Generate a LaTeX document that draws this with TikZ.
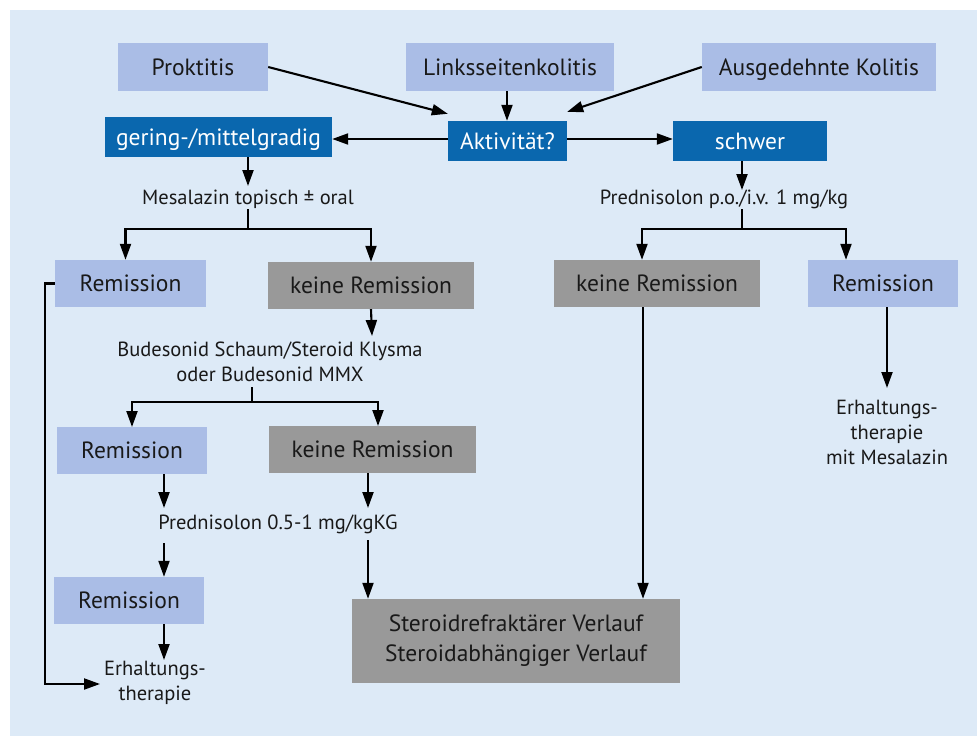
\documentclass[tikz,border=0pt]{standalone}
\usepackage{fontspec}
\setmainfont{PT Sans}
\usetikzlibrary{arrows.meta,calc}
\definecolor{bgpanel}{HTML}{DDEAF7}
\definecolor{lightbox}{HTML}{AABDE6}
\definecolor{darkbox}{HTML}{0A67AE}
\definecolor{graybox}{HTML}{999999}
\tikzset{
  box/.style={rectangle, inner sep=0pt, text height=16.5pt, text depth=0pt, font=\fontsize{23.5}{27}\selectfont},
  lbox/.style={box, fill=lightbox, text=black!90},
  dbox/.style={box, fill=darkbox, text=white},
  gbox/.style={box, fill=graybox, text=black!90},
  bigbox/.style={rectangle, inner sep=0pt, fill=graybox, text=black!90, align=center, font=\fontsize{23.5}{30}\selectfont},
  note/.style={inner sep=1pt, align=center, font=\fontsize{20.5}{25}\selectfont, text=black!90},
  arr/.style={line width=2.1pt, -{Triangle[length=16pt,width=11pt]}},
  ln/.style={line width=2.1pt},
}
\newcommand{\bx}[8]{% style, name, x1, y1, x2, y2, text
  \node[#1, minimum width={(#5)-(#3)}, minimum height={(#6)-(#4)}] (#2) at ({((#3)+(#5))/2},{((#4)+(#6))/2}) {#7};}
\begin{document}
\begin{tikzpicture}[x=1pt,y=-1pt]
\useasboundingbox (0,0) rectangle (977,736);
\fill[white] (0,0) rectangle (977,736);
\fill[bgpanel] (10,10) rectangle (977,736);

\bx{lbox}{prok}{118}{43}{268}{91}{Proktitis}{}
\bx{lbox}{links}{406}{43}{614}{91}{Linksseitenkolitis}{}
\bx{lbox}{ausg}{702}{43}{936}{91}{Ausgedehnte Kolitis}{}
\bx{dbox}{gering}{105}{117}{332}{157}{gering-/mittelgradig}{}
\bx{dbox}{akt}{448}{121}{567}{161}{Aktivität?}{}
\bx{dbox}{schwer}{673}{121}{827}{161}{schwer}{}
\bx{lbox}{rem1}{55}{260}{206}{307}{Remission}{}
\bx{gbox}{kr1}{268}{262}{474}{309}{keine Remission}{}
\bx{lbox}{rem2}{57}{427}{207}{474}{Remission}{}
\bx{gbox}{kr2}{269}{426}{476}{473}{keine Remission}{}
\bx{lbox}{rem3}{54}{577}{204}{624}{Remission}{}
\node[bigbox, minimum width=328pt, minimum height=84pt] (ster) at (516,641)
  {Steroidrefraktärer Verlauf\\Steroidabhängiger Verlauf};
\bx{gbox}{krR}{554}{260}{760}{307}{keine Remission}{}
\bx{lbox}{remR}{808}{260}{958}{307}{Remission}{}

\node[note] (mes) at (248,199) {Mesalazin topisch ± oral};
\node[note] (pred1) at (724,199) {Prednisolon p.o./i.v. 1 mg/kg};
\node[note] (bud) at (270,362) {Budesonid Schaum/Steroid Klysma\\oder Budesonid MMX};
\node[note] (pred2) at (278,524) {Prednisolon 0.5-1 mg/kgKG};
\node[note] (erh1) at (155,683) {Erhaltungs-\\therapie};
\node[note] (erh2) at (887,432) {Erhaltungs-\\therapie\\mit Mesalazin};

% top inputs
\draw[arr] (prok.east) -- ([yshift=7pt]akt.north west);
\draw[arr] (links.south -| 507,0) -- (akt.north -| 507,0);
\draw[arr] (ausg.west) -- ([yshift=9pt]akt.north east);
\draw[arr] (akt.west |- 0,139) -- (gering.east |- 0,139);
\draw[arr] (akt.east |- 0,139) -- (schwer.west |- 0,139);

% left branch
\coordinate (j1) at (248,229);
\draw[arr] (gering.south -| mes) -- (248,186) coordinate (mtop);
\draw[ln] (248,209) coordinate (mbot) -- (j1);
\draw[arr] (j1) -| ([xshift=-5pt]rem1.north);
\draw[arr] (j1) -| (kr1.north);
\draw[arr] (kr1.south) -- (372,336) coordinate (btop);
\coordinate (j2) at (252,402);
\draw[ln] (252,387) coordinate (bbot) -- (j2);
\draw[arr] (j2) -| (132,427) coordinate (r2top);
\draw[arr] (j2) -| (378,426) coordinate (k2top);
\coordinate (p2a) at (164,508);
\coordinate (p2b) at (368,508);
\draw[arr] (rem2.south -| p2a) -- (p2a);
\draw[arr] (kr2.south -| p2b) -- (p2b);
\draw[arr] (164,543) coordinate (p2c) -- (rem3.north -| p2c);
\draw[arr] (368,540) coordinate (p2d) -- (ster.north -| p2d);
\draw[arr] (rem3.south -| p2c) -- (164,660) coordinate (e1top);
\draw[arr] (rem1.west) -- ++(-10,0) |- (100,684) coordinate (e1left);

% right branch
\coordinate (j3) at (742,229);
\draw[arr] (schwer.south -| j3) -- (742,190) coordinate (p1top);
\draw[ln] (742,209) coordinate (p1bot) -- (j3);
\draw[arr] (j3) -| (krR.north -| 642,0);
\draw[arr] (j3) -| (remR.north -| 846,0);
\draw[arr] (krR.south -| 643,0) -- (ster.north -| 643,0);
\draw[arr] (remR.south -| 887,0) -- (887,388) coordinate (e2top);
\end{tikzpicture}
\end{document}
